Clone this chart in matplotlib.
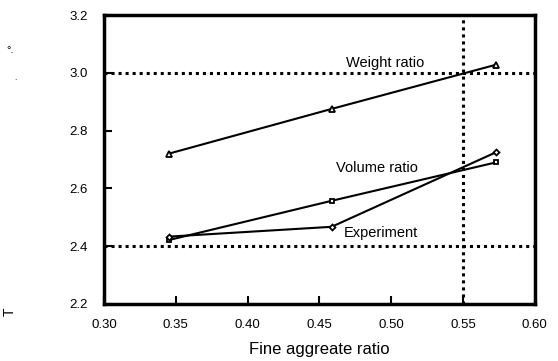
import matplotlib
matplotlib.use("agg")
import matplotlib.pyplot as plt

plt.rcParams['font.family'] = ['Liberation Sans', 'DejaVu Sans']

# data
fa_ratio = [0.345, 0.4585, 0.573]
weight_ratio = [2.72, 2.875, 3.028]
volume_ratio = [2.421, 2.557, 2.69]
experiment = [2.433, 2.467, 2.725]

xticks = [0.30, 0.35, 0.40, 0.45, 0.50, 0.55, 0.60]
yticks = [2.2, 2.4, 2.6, 2.8, 3.0, 3.2]
ref_h = [3.0, 2.4]
ref_v = 0.55

fig = plt.figure(figsize=(5.58, 3.61), dpi=100)
ax = fig.add_axes([0.1864, 0.158, 0.772, 0.8004])

for y in ref_h:
    ax.axhline(y, color="black", lw=2.2, ls=(0, (1, 1.3)), zorder=1)
ax.axvline(ref_v, color="black", lw=2.2, ls=(0, (1, 1.3)), zorder=1)

ax.plot(fa_ratio, weight_ratio, color="black", lw=1.5, marker="^", ms=4,
        mfc="white", mec="black", mew=1.3, zorder=3)
ax.plot(fa_ratio, volume_ratio, color="black", lw=1.5, marker="s", ms=3,
        mfc="white", mec="black", mew=1.3, zorder=3)
ax.plot(fa_ratio, experiment, color="black", lw=1.5, marker="D", ms=3,
        mfc="white", mec="black", mew=1.3, zorder=3)

ax.text(0.4956, 3.035, "Weight ratio", ha="center", va="center", fontsize=10.5)
ax.text(0.490, 2.671, "Volume ratio", ha="center", va="center", fontsize=10.5)
ax.text(0.4925, 2.446, "Experiment", ha="center", va="center", fontsize=10.5)

ax.set_xlim(0.30, 0.60)
ax.set_ylim(2.2, 3.2)
ax.set_xticks(xticks)
ax.set_xticklabels([f"{v:.2f}" for v in xticks])
ax.set_yticks(yticks)
ax.set_yticklabels([f"{v:.1f}" for v in yticks])
ax.tick_params(direction="in", length=6, width=1.5, labelsize=9.5, colors="black")
ax.tick_params(axis="x", pad=11)
ax.tick_params(axis="y", pad=12)
for s in ax.spines.values():
    s.set_linewidth(2.5)

ax.set_xlabel("Fine aggreate ratio", fontsize=12, labelpad=8)

# stray glyphs of the lost y label
fig.text(10 / 558, 1 - 50 / 361, "°.", fontsize=8, ha="center", va="center")
fig.text(15 / 558, 1 - 78 / 361, ".", fontsize=6, ha="center", va="center")
fig.text(10 / 558, 1 - 312 / 361, "T", fontsize=10, rotation=90, ha="center", va="center")

fig.savefig("out.png", dpi=100)
